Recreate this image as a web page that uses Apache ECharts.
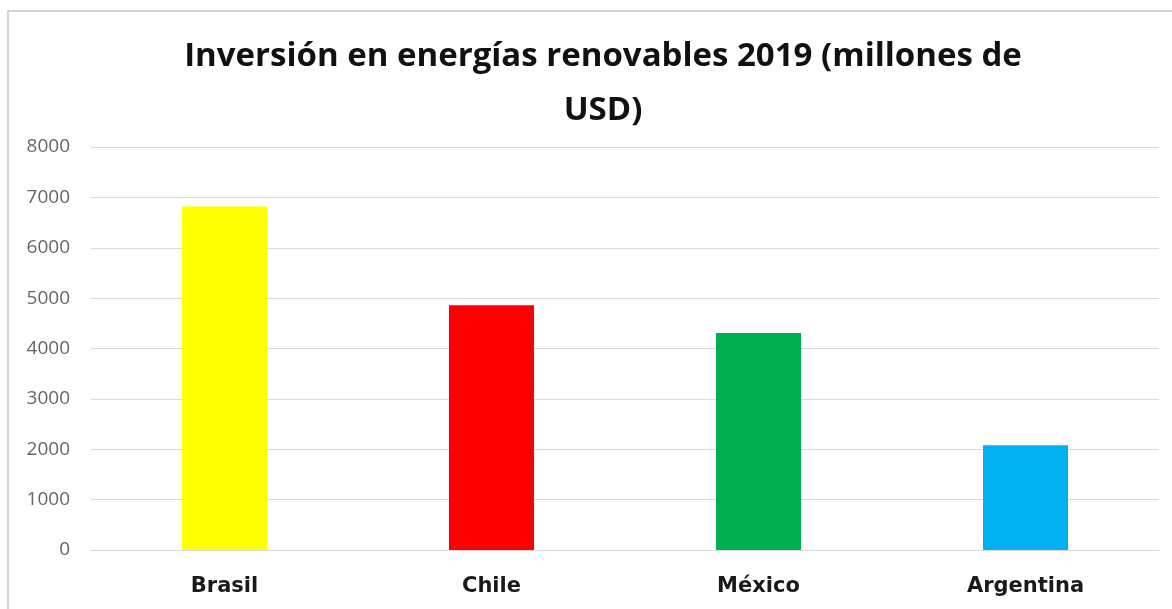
<!DOCTYPE html>
<html>
<head>
<meta charset="utf-8">
<title>Inversión en energías renovables 2019</title>
<script src="https://cdn.jsdelivr.net/npm/echarts@6/dist/echarts.min.js"></script>
<style>
  html, body { margin: 0; padding: 0; background: #ffffff; }
  #chart { width: 1172px; height: 609px; }
</style>
</head>
<body>
<div id="chart"></div>
<script>
// Country names along the horizontal axis
const countries = ['Brasil', 'Chile', 'México', 'Argentina'];
// Investment in renewable energy, 2019 (millions of USD)
const investment = [6820, 4860, 4310, 2080];
// One fill colour per country bar
const barColors = ['#FFFF00', '#FF0000', '#00B050', '#00B0F0'];
// Value axis range and step
const yMin = 0;
const yMax = 8000;
const yStep = 1000;

const chart = echarts.init(document.getElementById('chart'), null, { renderer: 'canvas' });

chart.setOption({
  backgroundColor: '#ffffff',
  animation: false,
  title: {
    text: 'Inversión en energías renovables 2019 (millones de\nUSD)',
    left: 598,
    top: 25,
    textAlign: 'center',
    textStyle: {
      fontFamily: 'Open Sans',
      fontWeight: 'bold',
      fontSize: 33,
      lineHeight: 54,
      color: '#111111'
    }
  },
  graphic: [{
    type: 'rect',
    silent: true,
    shape: { x: 8, y: 11, width: 2000, height: 2000 },
    style: { fill: 'none', stroke: '#d4d4d4', lineWidth: 2 }
  }],
  grid: {
    left: 91,
    right: 13,
    top: 147,
    bottom: 59,
    containLabel: false
  },
  xAxis: {
    type: 'category',
    data: countries,
    axisTick: { show: false },
    axisLine: { show: true, lineStyle: { color: '#d9d9d9', width: 1 } },
    axisLabel: {
      margin: 26,
      fontFamily: 'DejaVu Sans',
      fontWeight: 'bold',
      fontSize: 21,
      color: '#1a1a1a'
    }
  },
  yAxis: {
    type: 'value',
    min: yMin,
    max: yMax,
    interval: yStep,
    axisLine: { show: false },
    axisTick: { show: false },
    splitLine: { lineStyle: { color: '#d9d9d9', width: 1 } },
    axisLabel: {
      margin: 21,
      fontFamily: 'Open Sans',
      fontSize: 19,
      color: '#666666',
      formatter: (v) => String(v)
    }
  },
  series: [{
    type: 'bar',
    barWidth: 85,
    data: investment.map((v, i) => ({ value: v, itemStyle: { color: barColors[i] } }))
  }]
});
</script>
</body>
</html>
